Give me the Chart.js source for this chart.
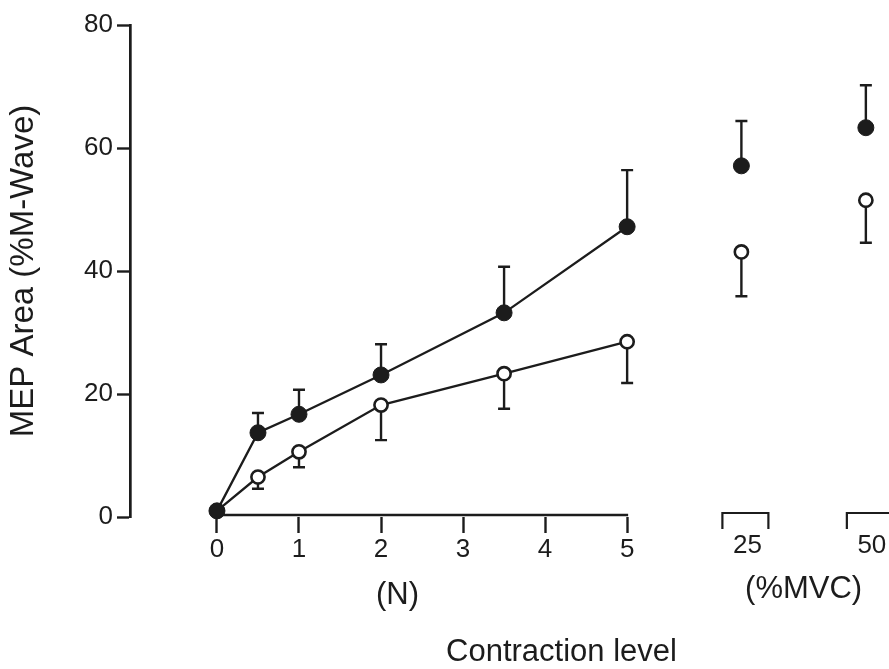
<!DOCTYPE html>
<html lang="en">
<head>
<meta charset="UTF-8">
<title>MEP Area vs contraction level</title>
<script src="https://cdn.jsdelivr.net/npm/chart.js"></script>
<style>
    body { margin: 0; background: #fff; }
    .chart-container { position: relative; width: 889px; height: 669px; }
</style>
</head>
<body>
<div class="chart-container"><canvas id="mepChart"></canvas></div>
<script>
// contraction level in newtons
const forceLevels = [0, 0.5, 1, 2, 3.5, 5];
const filledMean  = [1, 13.7, 16.7, 23.1, 33.2, 47.2];
const filledUpper = [null, 16.9, 20.7, 28.1, 40.7, 56.4];
const openMean    = [1, 6.5, 10.6, 18.2, 23.3, 28.5];
const openLower   = [null, 4.6, 8.1, 12.5, 17.6, 21.8];

// contraction level in %MVC
const mvcLevels      = [25, 50];
const mvcFilledMean  = [57.1, 63.3];
const mvcFilledUpper = [64.4, 70.2];
const mvcOpenMean    = [43.1, 51.5];
const mvcOpenLower   = [35.9, 44.6];

const forceTicks = [0, 1, 2, 3, 4, 5];
const yTicks = [0, 20, 40, 60, 80];

const INK = "#1c1c1c";
const FONT = "'Liberation Sans', Arial, sans-serif";

const pts = (xs, ys) => xs.map((x, i) => ({ x: x, y: ys[i] }));

const filledStyle = {
    borderColor: INK, borderWidth: 2.3, tension: 0,
    pointRadius: 8, pointBackgroundColor: INK, pointBorderColor: INK, pointBorderWidth: 1,
    clip: false
};
const openStyle = {
    borderColor: INK, borderWidth: 2.3, tension: 0,
    pointRadius: 6.6, pointBackgroundColor: "#fff", pointBorderColor: INK, pointBorderWidth: 2.6,
    clip: false
};

// error bars: one-sided, from the mean to the value in errorTo
const errorBars = {
    id: "errorBars",
    beforeDatasetsDraw(chart) {
        const ctx = chart.ctx;
        ctx.save();
        ctx.strokeStyle = INK;
        ctx.lineWidth = 2.4;
        chart.data.datasets.forEach((ds, di) => {
            if (!ds.errorTo) return;
            const meta = chart.getDatasetMeta(di);
            const yScale = chart.scales[meta.yAxisID];
            meta.data.forEach((pt, i) => {
                const e = ds.errorTo[i];
                if (e == null) return;
                const ye = yScale.getPixelForValue(e);
                ctx.beginPath();
                ctx.moveTo(pt.x, pt.y);
                ctx.lineTo(pt.x, ye);
                ctx.moveTo(pt.x - 6, ye);
                ctx.lineTo(pt.x + 6, ye);
                ctx.stroke();
            });
        });
        ctx.restore();
    }
};

// x axis line (0-5 N only), %MVC brackets and the axis texts
const axisDecor = {
    id: "axisDecor",
    afterDraw(chart) {
        const ctx = chart.ctx;
        const x = chart.scales.x, x2 = chart.scales.x2;
        const bottom = chart.chartArea.bottom;
        ctx.save();
        ctx.strokeStyle = INK;
        ctx.lineWidth = 2.7;
        ctx.beginPath();
        ctx.moveTo(x.getPixelForValue(forceTicks[0]), bottom - 2);
        ctx.lineTo(x.getPixelForValue(forceTicks[forceTicks.length - 1]) + 1, bottom - 2);
        ctx.stroke();

        ctx.fillStyle = INK;
        ctx.textAlign = "center";
        ctx.textBaseline = "middle";
        ctx.font = "26px " + FONT;
        ctx.lineWidth = 2.2;
        mvcLevels.forEach(v => {
            const cx = x2.getPixelForValue(v) + 4;
            ctx.beginPath();
            ctx.moveTo(cx - 23, bottom + 12);
            ctx.lineTo(cx - 23, bottom - 4);
            ctx.lineTo(cx + 23, bottom - 4);
            ctx.lineTo(cx + 23, bottom + 12);
            ctx.stroke();
            ctx.fillText(String(v), cx + 2, bottom + 29);
        });

        ctx.font = "31px " + FONT;
        ctx.fillText("(N)", x.getPixelForValue(2.2), bottom + 78);
        ctx.fillText("(%MVC)", x2.getPixelForValue((mvcLevels[0] + mvcLevels[1]) / 2), bottom + 72);
        ctx.fillText("Contraction level", x.getPixelForValue(4.2), bottom + 135);
        ctx.restore();
    }
};

new Chart(document.getElementById("mepChart"), {
    type: "line",
    data: {
        datasets: [
            Object.assign({ label: "filled", data: pts(forceLevels, filledMean), errorTo: filledUpper }, filledStyle),
            Object.assign({ label: "open", data: pts(forceLevels, openMean), errorTo: openLower }, openStyle),
            Object.assign({ label: "filled MVC", data: pts(mvcLevels, mvcFilledMean), errorTo: mvcFilledUpper,
                            xAxisID: "x2", showLine: false }, filledStyle),
            Object.assign({ label: "open MVC", data: pts(mvcLevels, mvcOpenMean), errorTo: mvcOpenLower,
                            xAxisID: "x2", showLine: false }, openStyle)
        ]
    },
    options: {
        responsive: true,
        maintainAspectRatio: false,
        animation: false,
        layout: { padding: { top: 25, right: 0, bottom: 0, left: 0 } },
        plugins: { legend: { display: false }, tooltip: { enabled: false } },
        scales: {
            x: {
                type: "linear",
                min: -1.06,
                max: 8.08,
                afterBuildTicks: s => { s.ticks = forceTicks.map(v => ({ value: v })); },
                afterFit: s => { s.height = 152; },
                border: { display: false },
                grid: { drawOnChartArea: false, tickLength: 16, tickWidth: 2.4, tickColor: INK },
                ticks: { color: INK, font: { family: FONT, size: 26 }, padding: 1, maxRotation: 0 }
            },
            x2: {
                type: "linear",
                display: false,
                min: -97.8,
                max: 52.8
            },
            y: {
                min: 0,
                max: 80,
                afterBuildTicks: s => { s.ticks = yTicks.map(v => ({ value: v })); },
                afterFit: s => { s.width = 130; },
                border: { display: true, color: INK, width: 2.7 },
                grid: { drawOnChartArea: false, tickLength: 13, tickWidth: 2.4, tickColor: INK },
                ticks: { color: INK, font: { family: FONT, size: 26 }, padding: 4 },
                title: {
                    display: true,
                    text: "MEP Area (%M-Wave)",
                    color: INK,
                    font: { family: FONT, size: 33 },
                    padding: { top: 4, bottom: 0 }
                }
            }
        }
    },
    plugins: [errorBars, axisDecor]
});
</script>
</body>
</html>
